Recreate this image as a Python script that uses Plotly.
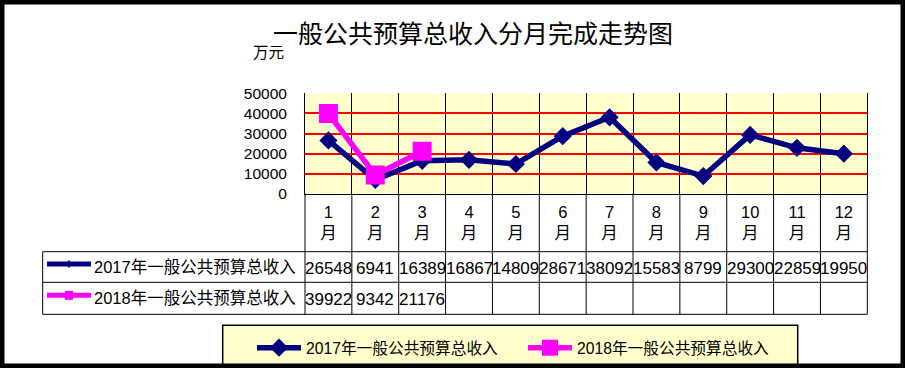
import plotly.graph_objects as go

# ---------------- data ----------------
months = ["1", "2", "3", "4", "5", "6", "7", "8", "9", "10", "11", "12"]
series_names = ["2017年一般公共预算总收入", "2018年一般公共预算总收入"]
values_2017 = [26548, 6941, 16389, 16867, 14809, 28671, 38092, 15583, 8799, 29300, 22859, 19950]
values_2018 = [39922, 9342, 21176]
y_ticks = [0, 10000, 20000, 30000, 40000, 50000]
title_text = "一般公共预算总收入分月完成走势图"
unit_text = "万元"

# ---------------- geometry helpers ----------------
W, H = 905, 368
def px(p):
    return p / W
def py(p):
    return 1 - p / H

PLOT_L, PLOT_R, PLOT_T, PLOT_B = 305, 867.3, 93.4, 193.7
TABLE_L = 42.7
ROW_TOPS = [251.7, 282.3, 314.3]
dom_left = (TABLE_L - PLOT_L) / (PLOT_R - PLOT_L)

NAVY = "#000080"
MAGENTA = "#FF00FF"
YELLOW = "#FFFFCC"
FONT = "Liberation Sans, Noto Sans CJK SC, sans-serif"

fig = go.Figure()
fig.add_trace(go.Scatter(
    x=months, y=values_2017, name=series_names[0], mode="lines+markers",
    line=dict(color=NAVY, width=5.5),
    marker=dict(symbol="diamond", size=14, color=NAVY),
))
fig.add_trace(go.Scatter(
    x=months[:len(values_2018)], y=values_2018, name=series_names[1], mode="lines+markers",
    line=dict(color=MAGENTA, width=5.5),
    marker=dict(symbol="square", size=19, color=MAGENTA),
))

shapes = []
annotations = []

# table vertical lines (below the plot area)
ncat = len(months)
for i in range(ncat + 1):
    shapes.append(dict(type="line", xref="x domain", yref="paper",
                       x0=i / ncat, x1=i / ncat, y0=py(PLOT_B), y1=py(ROW_TOPS[-1]),
                       line=dict(color="black", width=1)))
# first column left border
shapes.append(dict(type="line", xref="x domain", yref="paper",
                   x0=dom_left, x1=dom_left, y0=py(ROW_TOPS[0]), y1=py(ROW_TOPS[-1]),
                   line=dict(color="black", width=1)))
# horizontal rows
for yy in ROW_TOPS:
    shapes.append(dict(type="line", xref="x domain", yref="paper",
                       x0=dom_left, x1=1, y0=py(yy), y1=py(yy),
                       line=dict(color="black", width=1)))

# table rows: legend keys + names + values
row_series = [(series_names[0], values_2017, NAVY, "diamond"),
              (series_names[1], values_2018, MAGENTA, "square")]
for r, (name, vals, col, sym) in enumerate(row_series):
    yc = (ROW_TOPS[r] + ROW_TOPS[r + 1]) / 2
    ky = yc - 3
    shapes.append(dict(type="line", xref="paper", yref="paper",
                       x0=px(47), x1=px(91), y0=py(ky), y1=py(ky),
                       line=dict(color=col, width=5)))
    if sym == "diamond":
        shapes.append(dict(type="path", xref="paper", yref="paper",
                           path=f"M {px(66)},{py(ky)} L {px(69)},{py(ky-4)} L {px(72)},{py(ky)} L {px(69)},{py(ky+4)} Z",
                           fillcolor=col, line=dict(color=col, width=0)))
    else:
        shapes.append(dict(type="rect", xref="paper", yref="paper",
                           x0=px(65), x1=px(73), y0=py(ky - 4.5), y1=py(ky + 4.5),
                           fillcolor=col, line=dict(color=col, width=0)))
    annotations.append(dict(xref="paper", yref="paper", x=px(92), y=py(yc),
                            text=name, showarrow=False, xanchor="left", yanchor="middle",
                            font=dict(family=FONT, size=16.5, color="black")))
    for i, v in enumerate(vals):
        annotations.append(dict(xref="x", yref="paper", x=i, y=py(yc + 1),
                                text=str(v), showarrow=False, xanchor="center", yanchor="middle",
                                font=dict(family=FONT, size=17, color="black")))

# unit label
annotations.append(dict(xref="paper", yref="paper", x=px(268.5), y=py(51),
                        text=unit_text, showarrow=False, xanchor="center", yanchor="middle",
                        font=dict(family="Noto Sans CJK SC", size=15.5, color="black")))

# legend box
shapes.append(dict(type="rect", xref="paper", yref="paper",
                   x0=px(222.7), x1=px(797.7), y0=py(325.3), y1=py(375),
                   fillcolor=YELLOW, line=dict(color="black", width=1.5), layer="below"))
# outer border
shapes.append(dict(type="rect", xref="paper", yref="paper",
                   x0=0, x1=1, y0=0, y1=1, fillcolor="rgba(0,0,0,0)",
                   line=dict(color="black", width=9)))

fig.update_layout(
    width=W, height=H,
    margin=dict(l=0, r=0, t=0, b=0, autoexpand=False),
    paper_bgcolor="white",
    plot_bgcolor=YELLOW,
    font=dict(family=FONT, color="black"),
    title=dict(text=title_text, x=px(473), xanchor="center", y=1 - 34 / H, yanchor="middle",
               font=dict(family="Noto Sans CJK SC", size=25, color="black")),
    xaxis=dict(domain=[px(PLOT_L), px(PLOT_R)], type="category",
               range=[-0.5, ncat - 0.5], autorange=False,
               tickvals=months, ticktext=[f"{m}<br>月" for m in months],
               tickson="boundaries", ticks="", showgrid=True, gridcolor="black", gridwidth=1,
               showline=True, linecolor="black", linewidth=1, zeroline=False,
               ticklabelstandoff=3,
               tickfont=dict(family=FONT, size=16.5, color="black"), fixedrange=True),
    yaxis=dict(domain=[py(PLOT_B), py(PLOT_T)], range=[0, 50000], tickvals=y_ticks,
               tickformat="d", showgrid=True, gridcolor="#FF0000", gridwidth=2,
               showline=True, mirror=True, linecolor="black", linewidth=1, zeroline=False,
               ticks="", ticklabelstandoff=14,
               tickfont=dict(family=FONT, size=15.5, color="black"), fixedrange=True),
    showlegend=True,
    legend=dict(orientation="h", x=px(252), xanchor="left", y=py(348), yanchor="middle",
                bgcolor="rgba(0,0,0,0)", borderwidth=0, entrywidth=212, itemwidth=44,
                font=dict(family=FONT, size=15.7, color="black")),
    shapes=shapes, annotations=annotations,
)

fig.write_html("out.html", config={"displayModeBar": False},
               post_script="document.body.style.margin='0';document.body.style.overflow='hidden';")
